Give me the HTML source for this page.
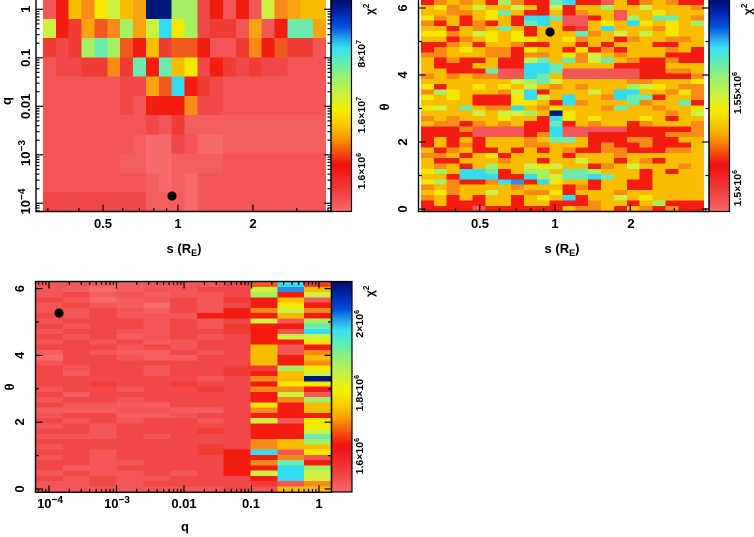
<!DOCTYPE html>
<html><head><meta charset="utf-8">
<style>
html,body{margin:0;padding:0;background:#fff;}
svg{display:block;}
text{font-family:"Liberation Sans",sans-serif;font-weight:bold;fill:#000;}
</style></head>
<body>
<svg id="s" xmlns="http://www.w3.org/2000/svg" width="754" height="537" viewBox="0 0 754 537">
<defs>
<linearGradient id="cb" x1="0" y1="0" x2="0" y2="1">
<stop offset="0" stop-color="#000c66"/>
<stop offset="0.06" stop-color="#0022aa"/>
<stop offset="0.13" stop-color="#0050dc"/>
<stop offset="0.19" stop-color="#2aa8ee"/>
<stop offset="0.23" stop-color="#38e0f0"/>
<stop offset="0.30" stop-color="#60eeb4"/>
<stop offset="0.37" stop-color="#98f070"/>
<stop offset="0.45" stop-color="#ccf040"/>
<stop offset="0.52" stop-color="#f4f000"/>
<stop offset="0.60" stop-color="#f8c400"/>
<stop offset="0.66" stop-color="#f89400"/>
<stop offset="0.72" stop-color="#f45010"/>
<stop offset="0.78" stop-color="#f01010"/>
<stop offset="0.88" stop-color="#f03434"/>
<stop offset="1" stop-color="#f86a6a"/>
</linearGradient>
<clipPath id="c1"><rect x="43" y="0" width="283" height="211"/></clipPath>
<clipPath id="c2"><rect x="421" y="0" width="283" height="211"/></clipPath>
<clipPath id="c3"><rect x="36" y="281.5" width="295" height="210.5"/></clipPath>
</defs>
<rect x="0" y="0" width="754" height="537" fill="#fff"/>

<!-- fallback fills -->
<rect x="43" y="0" width="283" height="211" fill="#f35656"/>
<rect x="421" y="0" width="283" height="211" fill="#f8a810"/>
<rect x="36" y="281.5" width="295" height="210.5" fill="#f24e4c"/>

<g id="h1" clip-path="url(#c1)" shape-rendering="crispEdges"></g>
<g id="h2" clip-path="url(#c2)" shape-rendering="crispEdges"></g>
<g id="h3" clip-path="url(#c3)" shape-rendering="crispEdges"></g>

<!-- colorbars -->
<rect x="331" y="-1" width="20.5" height="212.5" fill="url(#cb)" stroke="#000" stroke-width="1.2"/>
<rect x="709" y="-1" width="20.5" height="212.5" fill="url(#cb)" stroke="#000" stroke-width="1.2"/>
<rect x="331.5" y="281.5" width="20.5" height="210.5" fill="url(#cb)" stroke="#000" stroke-width="1.2"/>

<!-- frames -->
<g stroke="#000" stroke-width="1.4" fill="none">
<polyline points="36,0 36,211.5 331,211.5 331,0"/>
<polyline points="418.5,0 418.5,211.5 709,211.5 709,0"/>
<rect x="35.5" y="281.5" width="296" height="210.8"/>
</g>

<g id="ticks" stroke="#000" stroke-width="1.2"></g>

<!-- dots -->
<circle cx="172" cy="196" r="4.6" fill="#000"/>
<circle cx="550" cy="32" r="4.6" fill="#000"/>
<circle cx="59" cy="313" r="4.6" fill="#000"/>

<!-- Panel 1 labels -->
<g font-size="13">
<text transform="translate(30,9.3) rotate(-90)" text-anchor="middle">1</text>
<text transform="translate(30,57.8) rotate(-90)" text-anchor="middle">0.1</text>
<text transform="translate(30,106.3) rotate(-90)" text-anchor="middle">0.01</text>
<text transform="translate(30,153) rotate(-90)" text-anchor="middle">10<tspan font-size="10" dy="-5">−3</tspan></text>
<text transform="translate(30,201.5) rotate(-90)" text-anchor="middle">10<tspan font-size="10" dy="-5">−4</tspan></text>
<text transform="translate(11,101) rotate(-90)" text-anchor="middle">q</text>
<text x="103" y="228" text-anchor="middle">0.5</text>
<text x="178" y="228" text-anchor="middle">1</text>
<text x="253" y="228" text-anchor="middle">2</text>
<text x="184" y="253" text-anchor="middle">s (R<tspan font-size="9" dy="3">E</tspan><tspan dy="-3">)</tspan></text>
</g>
<g font-size="10.5">
<text transform="translate(365,40) rotate(-90)" text-anchor="end">8×10<tspan font-size="7" dy="-4">7</tspan></text>
<text transform="translate(365,97) rotate(-90)" text-anchor="end">1.6×10<tspan font-size="7" dy="-4">7</tspan></text>
<text transform="translate(365,153) rotate(-90)" text-anchor="end">1.6×10<tspan font-size="7" dy="-4">6</tspan></text>
<text transform="translate(374,15) rotate(-90)" font-size="12">χ<tspan font-size="8" dy="-5">2</tspan></text>
</g>

<!-- Panel 2 labels -->
<g font-size="13">
<text transform="translate(407,209) rotate(-90)" text-anchor="middle">0</text>
<text transform="translate(407,142) rotate(-90)" text-anchor="middle">2</text>
<text transform="translate(407,75) rotate(-90)" text-anchor="middle">4</text>
<text transform="translate(407,8) rotate(-90)" text-anchor="middle">6</text>
<text transform="translate(389,107) rotate(-90)" text-anchor="middle">θ</text>
<text x="480" y="228" text-anchor="middle">0.5</text>
<text x="555" y="228" text-anchor="middle">1</text>
<text x="631" y="228" text-anchor="middle">2</text>
<text x="562" y="253" text-anchor="middle">s (R<tspan font-size="9" dy="3">E</tspan><tspan dy="-3">)</tspan></text>
</g>
<g font-size="10.5">
<text transform="translate(741,72) rotate(-90)" text-anchor="end">1.55×10<tspan font-size="7" dy="-4">6</tspan></text>
<text transform="translate(741,170) rotate(-90)" text-anchor="end">1.5×10<tspan font-size="7" dy="-4">6</tspan></text>
<text transform="translate(752,15) rotate(-90)" font-size="12">χ<tspan font-size="8" dy="-5">2</tspan></text>
</g>

<!-- Panel 3 labels -->
<g font-size="13">
<text transform="translate(24,489) rotate(-90)" text-anchor="middle">0</text>
<text transform="translate(24,422) rotate(-90)" text-anchor="middle">2</text>
<text transform="translate(24,355.4) rotate(-90)" text-anchor="middle">4</text>
<text transform="translate(24,288.6) rotate(-90)" text-anchor="middle">6</text>
<text transform="translate(14,387) rotate(-90)" text-anchor="middle">θ</text>
<text x="50" y="508" text-anchor="middle">10<tspan font-size="10" dy="-5">−4</tspan></text>
<text x="117" y="508" text-anchor="middle">10<tspan font-size="10" dy="-5">−3</tspan></text>
<text x="184" y="508" text-anchor="middle">0.01</text>
<text x="251" y="508" text-anchor="middle">0.1</text>
<text x="319" y="508" text-anchor="middle">1</text>
<text x="185" y="531" text-anchor="middle">q</text>
</g>
<g font-size="10.5">
<text transform="translate(363,310) rotate(-90)" text-anchor="end">2×10<tspan font-size="7" dy="-4">6</tspan></text>
<text transform="translate(363,375) rotate(-90)" text-anchor="end">1.8×10<tspan font-size="7" dy="-4">6</tspan></text>
<text transform="translate(363,438) rotate(-90)" text-anchor="end">1.6×10<tspan font-size="7" dy="-4">6</tspan></text>
<text transform="translate(374,297) rotate(-90)" font-size="12">χ<tspan font-size="8" dy="-5">2</tspan></text>
</g>
</svg>

<script>
(function(){
var NS='http://www.w3.org/2000/svg';
var C={R:'#f41c10',r:'#f03c32',p:'#f35656',q:'#f04848',u:'#f45e5e',s:'#f86a6a',e:'#f05a1e',o:'#f88a18',A:'#f8a410',a:'#f8bc00',y:'#f4e800',g:'#cef040',G:'#a4f062',t:'#6ceab0',c:'#34dcf0',b:'#2c8ce8',B:'#00187a'};
function el(p,tag,at){var e=document.createElementNS(NS,tag);for(var k in at)e.setAttribute(k,at[k]);p.appendChild(e);return e;}
function grid(id,x0,y0,cw,rh,rows){var g=document.getElementById(id);
 for(var i=0;i<rows.length;i++){var row=rows[i];for(var j=0;j<row.length;j++){
  el(g,'rect',{x:(x0+j*cw).toFixed(2),y:(y0+i*rh).toFixed(2),width:(cw+0.7).toFixed(2),height:(rh+0.7).toFixed(2),fill:C[row[j]]||'#f35656'});}}}

var P1=["pRaoygaABBGGqRpRpgoAaa","gRrAeoGAgcyGqrrpApRttA","rqrGtGeRareeRpproRerrp","pqqrrortRtayqRrqrqqppp",
"ppppppqqAecRrqpppppppp","ppppppqpRRRoqqpppppppp","ppppppppqpruuuuuuuuuuu","pppppppussqpssuuuuuuuu",
"ppppppuussuuuupppppppp","ppppppppususpppppppppp","qqqqqqqquuuspppppppppp"];
grid('h1',43,-0.5,283/22,19.25,P1);

var P2=["RoaoaRGoRRtcRRpaRoaoRR","ayoagaagaRgRaaGaagaaao","aaooaytaRRaRoaapaayaaa","yoaRayaRcctppRapGattao",
"oRaRoRaRtcappayacyayaG","aaRaoataRaaRracaaaoyaa","yyoagyayRaaatoagagayaa","aaRoayayyaayoaaRoaaooa",
"RRoaRaaoRRaaRaRaaaRRaa","RoayaooRyaaRyRoRaaaoaR","ooaaaooRooayogaoaaaRRR","aRoRRaRRgtatogtaoRRoRR",
"aRRRaaRRcctaaaaRRRRaaa","aaRRRtppcctppppppRRooa","oaoaooppctappppppRRRRo","aaaaaaagGtgaaaaaooaaay",
"yRaayayagaoaoaaaGgyaoo","oGyaaaogcRaaagaccaaoyo","yayaRRRycgacaaocttRaao","aaaaRRRyyaRcoaaatoaatR",
"ygataoocaoyaaaotaaoaay","aaaagaggGaByaaaaaaaoag","oaoaaayaaRcyayaaayaRaa","aooRoaoaRRtRaoaaRoaaao",
"RRRoppppRRcpppppRRRRRo","RRRRppppRocppRRRRRRooo","RaRaRaaaoattaRRRooRRaa","RaRoRaaaooaaaRoRRoRRRa",
"aRoaRRaRaRaoRRooRRRooa","ooaRayRaaaaRaaaoaaaaaa","aRRaaaoaaRaagaaRaoRaaa","aoaRaGaagygaaRoagaaaoa",
"yGacctRaGGattGaaaRaRaa","aaRcccRRcGgttctaaRaaaa","yGoRRocbRcyaaRaaRRaaaa","oaoaaaaoaaaRoRaaRRaaaa",
"ayoaagaaooyRaaaoaaaaaa","oaRaRaaRayacRaagayaaaa","RaRRRaaRaaRRRoaaRaGRRR","RRRRpRRRRRRaooaRaoRoRR"];
grid('h2',421,-0.5,283/22,5.29,P2);

var L3=["ppuupppq","pusuppqq","pqupuppq","qpsupqpr","pqpusqpq","ppqpuqpR","qpqpppRR","pqqqpqpq",
"qpqqpqpr","pqqppqqr","qpqupqpq","pqpqupqq","qqqpqpqq","uqpuuqpq","sqqpuuqq","pqqqqqqq",
"qpqqpqqr","quqqpqqr","qqqqqqpq","qqrqqrqq","pqqpqqrq","quqqqqqq","pqqpqqqq","qppuuqqq",
"uuuppuuq","pqquupqq","qpqpqqpq","pqpqqqqq","qqpqqqrq","pppqpqqq","qqqqqqqq","pqqqqqrq",
"qqpqqqrR","pqpqqqqR","qqppqqqR","qupqqqqR","pqppqpqR","qpqppqqq","ppqpqqqq","pppppppq"];
var A="egGRRoRgRRRRaaaarRoRoRRyoRgRRRoocRoRgRrp";
var B="cbRaygapRpgRppRRGaayogoRRRpRRRaapotcccpa";
var Cc="ragpRoRGtcgyRoaoygByRpGaaRyygtGaypRGggoa";
var P3=[];for(var i=0;i<40;i++){P3.push(L3[i]+A[i]+B[i]+Cc[i]);}
grid('h3',36,281.5,295/11,5.25,P3);

var T=document.getElementById('ticks');
function tk(x1,y1,x2,y2){el(T,'line',{x1:x1.toFixed(2),y1:y1.toFixed(2),x2:x2.toFixed(2),y2:y2.toFixed(2)});}
var lg=Math.log10?Math.log10:function(v){return Math.log(v)/Math.LN10;};
function logV(x,dir,yOf,kmin,kmax,ymin,ymax){for(var k=kmin;k<=kmax;k++){for(var m=1;m<=9;m++){var y=yOf(k+lg(m));if(y<ymin||y>ymax)continue;var len=(m==1)?7:3.5;tk(x,y,x+dir*len,y);}}}
function logH(y,dir,xOf,kmin,kmax,xmin,xmax){for(var k=kmin;k<=kmax;k++){for(var m=1;m<=9;m++){var x=xOf(k+lg(m));if(x<xmin||x>xmax)continue;var len=(m==1)?7:3.5;tk(x,y,x,y+dir*len);}}}
// panel 1
var q1=function(v){return 9.3-48.5*v;};
logV(36,1,q1,-5,0,0,211);
logV(331,-1,q1,-5,0,0,211);
var sList=[[0.3,0],[0.4,0],[0.5,1],[0.6,0],[0.7,0],[0.8,0],[0.9,0],[1,1],[2,1],[3,0],[4,0]];
sList.forEach(function(d){var x=178+249*lg(d[0]);if(x>36&&x<331)tk(x,211.5,x,211.5-(d[1]?7:3.5));});
// panel 2
for(var th=0;th<=6;th++){var y=209-33.5*th;var len=(th%2==0)?7:3.5;tk(418.5,y,418.5+len,y);tk(709,y,709-len,y);}
sList.forEach(function(d){var x=555+250*lg(d[0]);if(x>418.5&&x<709)tk(x,211.5,x,211.5-(d[1]?7:3.5));});
// panel 3
for(var th=0;th<=6;th++){var y=489-33.4*th;var len=(th%2==0)?7:3.5;tk(35.5,y,35.5+len,y);tk(331.5,y,331.5-len,y);}
var q3=function(v){return 319+67.5*v;};
logH(492.3,-1,q3,-5,0,36,331);
logH(281.5,1,q3,-5,0,36,331);
})();
</script>
</body></html>
